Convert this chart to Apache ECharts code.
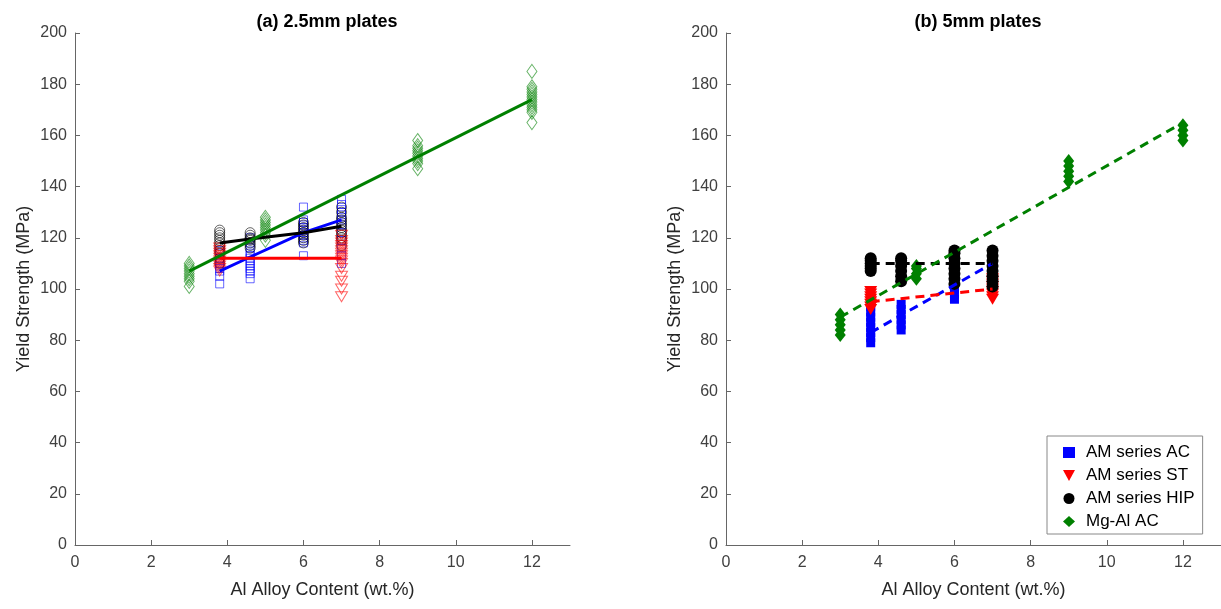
<!DOCTYPE html>
<html>
<head>
<meta charset="utf-8">
<script src="https://cdn.jsdelivr.net/npm/echarts@6/dist/echarts.min.js"></script>
<style>html,body{margin:0;padding:0;background:#fff;}#c{width:1221px;height:609px;}</style>
</head>
<body>
<div id="c"></div>
<script>
// ---------- data ----------
const xTicks = [0, 2, 4, 6, 8, 10, 12];
const yTicks = [0, 20, 40, 60, 80, 100, 120, 140, 160, 180, 200];
const titles = ['(a) 2.5mm plates', '(b) 5mm plates'];
const seriesNames = ['AM series AC', 'AM series ST', 'AM series HIP', 'Mg-Al AC'];

// (a) 2.5mm plates: [alloy content, [yield strengths]]
const acThin = [
  [3.8, [102, 105, 107, 108, 109, 110, 111, 112, 114, 115]],
  [4.6, [104, 106, 107, 108, 109, 110, 111, 112, 113, 114, 116, 118, 120]],
  [6, [113, 118, 119, 120, 121, 122, 123, 124, 125, 126, 127, 132]],
  [7, [110, 113, 116, 119, 122, 125, 127, 129, 130, 131, 133, 135]]
];
const stThin = [
  [3.8, [107, 108, 109, 110, 111, 112, 113, 114, 115, 116]],
  [7, [97, 100, 103, 105, 108, 110, 111, 112, 113, 114, 115, 116, 117, 118, 119, 121]]
];
const hipThin = [
  [3.8, [110, 112, 114, 115, 116, 117, 118, 119, 120, 121, 122, 123]],
  [4.6, [116, 117, 118, 119, 119.5, 120, 121, 122]],
  [6, [118, 119, 120, 121, 122, 123, 124, 125, 126]],
  [7, [117, 119, 120, 121, 122, 123, 124, 125, 126, 127, 128, 130, 132]]
];
const mgThin = [
  [3, [101, 103, 104, 105, 106, 107, 108, 109, 110]],
  [5, [119, 121, 122, 123, 124, 125, 126, 127, 128]],
  [9, [147, 149, 150, 151, 152, 153, 154, 155, 156, 158]],
  [12, [165, 169, 170, 171, 172, 173, 174, 175, 176, 177, 178, 179, 185]]
];
const acThinFit = [[3.8, 107], [4.6, 112.5], [6, 122], [7, 127]];
const stThinFit = [[3.8, 112], [7, 112]];
const hipThinFit = [[3.8, 118], [4.6, 119.5], [6, 122], [7, 124.5]];
const mgThinFit = [[3, 107], [12, 174]];

// (b) 5mm plates
const acThick = [
  [3.8, [79, 81, 83, 85, 87, 89, 91, 93]],
  [4.6, [84, 86, 88, 90, 92, 94]],
  [6, [96, 98, 100, 102]],
  [7, [100, 103, 106, 109]]
];
const stThick = [
  [3.8, [92, 93, 94, 95, 96, 97, 98, 99]],
  [7, [96, 97, 98, 99, 100, 101, 102, 103, 104]]
];
const hipThick = [
  [3.8, [107, 108, 109, 110, 111, 112]],
  [4.6, [103, 105, 107, 109, 111, 112]],
  [6, [102, 104, 106, 108, 110, 112, 114, 115]],
  [7, [101, 103, 105, 107, 109, 111, 113, 115]]
];
const mgThick = [
  [3, [82, 84, 86, 88, 90]],
  [5, [104, 106, 108, 109]],
  [9, [142, 144, 146, 148, 150]],
  [12, [158, 160, 162, 164]]
];
const acThickFit = [[3.8, 83], [7, 110]];
const stThickFit = [[3.8, 95], [7, 100]];
const hipThickFit = [[3.8, 110], [7, 110]];
const mgThickFit = [[3, 89], [12, 165]];

// ---------- helpers ----------
function pts(groups) {
  const out = [];
  groups.forEach(g => g[1].forEach(v => out.push([g[0], v])));
  return out;
}
const BLUE = '#0000ff', RED = '#ff0000', BLACK = '#000000', GREEN = '#008000';
const TRI_DOWN = 'path://M0,0L10,0L5,9Z';
const FONT = 'Liberation Sans, Arial, sans-serif';
const TXT = '#404040';

function xAxis(gi) {
  return {
    type: 'value', gridIndex: gi, min: 0, max: 13, interval: 2,
    name: 'Al Alloy Content (wt.%)', nameLocation: 'middle', nameGap: 36,
    nameTextStyle: { fontFamily: FONT, fontSize: 18, color: '#262626' },
    axisLine: { lineStyle: { color: '#666', width: 1 } },
    axisTick: { inside: true, length: 5, lineStyle: { color: '#666' }, customValues: xTicks },
    axisLabel: { fontFamily: FONT, fontSize: 16, color: TXT, margin: 10, customValues: xTicks },
    splitLine: { show: false }
  };
}
function yAxis(gi) {
  return {
    type: 'value', gridIndex: gi, min: 0, max: 200, interval: 20,
    name: 'Yield Strength (MPa)', nameLocation: 'middle', nameGap: 42,
    nameTextStyle: { fontFamily: FONT, fontSize: 18, color: '#262626' },
    axisLine: { show: true, lineStyle: { color: '#666', width: 1 } },
    axisTick: { show: true, inside: true, length: 5, lineStyle: { color: '#666' }, customValues: yTicks },
    axisLabel: { fontFamily: FONT, fontSize: 16, color: TXT, margin: 8, customValues: yTicks },
    splitLine: { show: false }
  };
}
function hollow(name, data, color, symbol, size, gi, z) {
  return {
    type: 'scatter', name: name, xAxisIndex: gi, yAxisIndex: gi, data: data,
    symbol: symbol, symbolSize: size, z: z, silent: true,
    itemStyle: { color: 'rgba(255,255,255,0)', borderColor: color, borderWidth: 1, opacity: 0.6 }
  };
}
function filled(name, data, color, symbol, size, gi, z) {
  return {
    type: 'scatter', name: name, xAxisIndex: gi, yAxisIndex: gi, data: data,
    symbol: symbol, symbolSize: size, z: z, silent: true,
    itemStyle: { color: color, opacity: 1 }
  };
}
function fit(data, color, gi, dashed) {
  return {
    type: 'line', xAxisIndex: gi, yAxisIndex: gi, data: data, symbol: 'none', z: 10, silent: true,
    lineStyle: { color: color, width: 3, type: dashed ? [9, 6] : 'solid' }
  };
}

const option = {
  animation: false,
  backgroundColor: '#ffffff',
  title: [
    { text: titles[0], left: 322, top: 8, textAlign: 'center',
      textStyle: { fontFamily: FONT, fontSize: 18, fontWeight: 'bold', color: '#000' } },
    { text: titles[1], left: 973, top: 8, textAlign: 'center',
      textStyle: { fontFamily: FONT, fontSize: 18, fontWeight: 'bold', color: '#000' } }
  ],
  grid: [
    { left: 75, top: 33, width: 495, height: 512 },
    { left: 726, top: 33, width: 495, height: 512 }
  ],
  xAxis: [xAxis(0), xAxis(1)],
  yAxis: [yAxis(0), yAxis(1)],
  legend: {
    data: [
      { name: seriesNames[0], icon: 'rect' },
      { name: seriesNames[1], icon: TRI_DOWN },
      { name: seriesNames[2], icon: 'circle' },
      { name: seriesNames[3], icon: 'diamond' }
    ],
    orient: 'vertical', left: 1047, top: 436,
    padding: [8, 8, 4, 16], itemGap: 6, itemWidth: 12, itemHeight: 11,
    borderColor: '#888', borderWidth: 1, backgroundColor: '#fff',
    selectedMode: false,
    textStyle: { fontFamily: FONT, fontSize: 17, color: '#000', lineHeight: 16, padding: [0, 0, 0, 6] }
  },
  series: [
    hollow('acA', pts(acThin), BLUE, 'rect', 8, 0, 2),
    hollow('hipA', pts(hipThin), BLACK, 'circle', 10, 0, 3),
    hollow('stA', pts(stThin), RED, TRI_DOWN, [12, 10], 0, 4),
    hollow('mgA', pts(mgThin), GREEN, 'diamond', [10, 14], 0, 5),
    fit(acThinFit, BLUE, 0, false),
    fit(stThinFit, RED, 0, false),
    fit(hipThinFit, BLACK, 0, false),
    fit(mgThinFit, GREEN, 0, false),

    filled(seriesNames[0], pts(acThick), BLUE, 'rect', 9, 1, 2),
    filled(seriesNames[1], pts(stThick), RED, TRI_DOWN, [13, 11], 1, 3),
    filled(seriesNames[2], pts(hipThick), BLACK, 'circle', 12, 1, 4),
    filled(seriesNames[3], pts(mgThick), GREEN, 'diamond', [11, 14], 1, 5),
    fit(acThickFit, BLUE, 1, true),
    fit(stThickFit, RED, 1, true),
    fit(hipThickFit, BLACK, 1, true),
    fit(mgThickFit, GREEN, 1, true)
  ]
};
const chart = echarts.init(document.getElementById('c'), null, { renderer: 'canvas' });
chart.setOption(option);
</script>
</body>
</html>
